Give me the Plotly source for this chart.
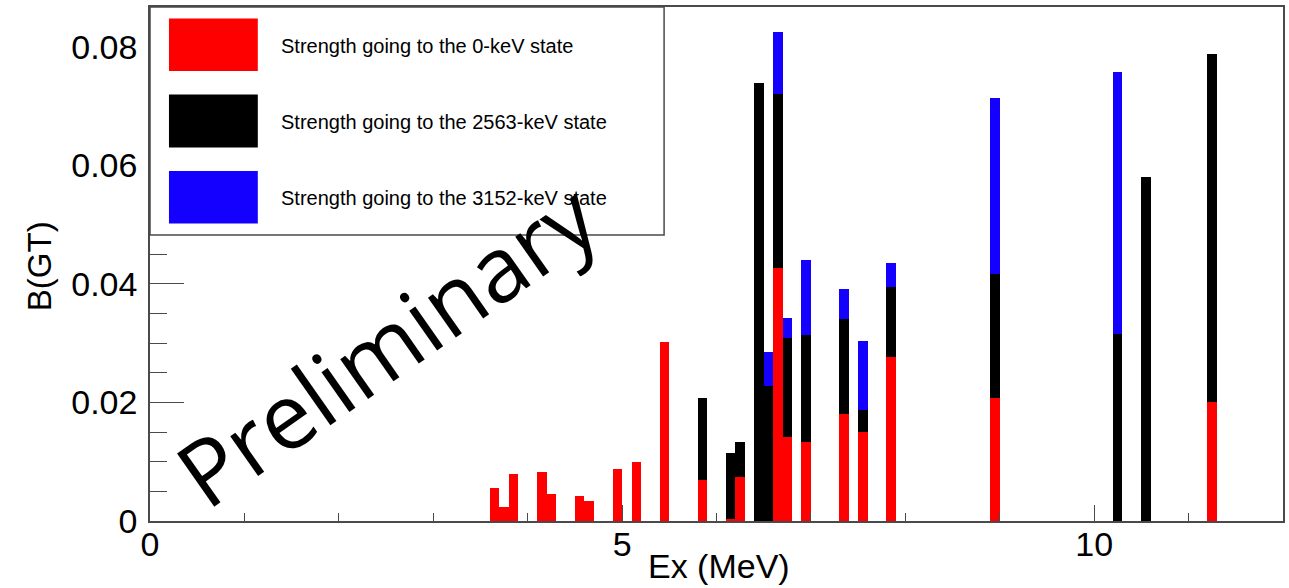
import plotly.graph_objects as go

# Excitation energy bin centres (MeV), 0.1 MeV wide bins
ex_mev = [3.65, 3.75, 3.85, 4.15, 4.25, 4.55, 4.65, 4.95, 5.15, 5.45,
          5.85, 6.15, 6.25, 6.45, 6.55, 6.65, 6.75, 6.95, 7.35, 7.55,
          7.85, 8.95, 10.25, 10.55, 11.25]

# B(GT) strength feeding each final state
bgt_0kev = [0.0055, 0.0024, 0.0079, 0.0083, 0.0045, 0.0043, 0.0033, 0.0087, 0.0100, 0.0302,
            0.0069, 0.0003, 0.0075, 0.0, 0.0, 0.0427, 0.0142, 0.0134, 0.0181, 0.0150,
            0.0277, 0.0207, 0.0, 0.0, 0.0201]
bgt_2563kev = [0.0, 0.0, 0.0, 0.0, 0.0, 0.0, 0.0, 0.0, 0.0, 0.0,
               0.0139, 0.0111, 0.0059, 0.0739, 0.0228, 0.0294, 0.0167, 0.0179, 0.0160, 0.0038,
               0.0117, 0.0209, 0.0315, 0.0580, 0.0586]
bgt_3152kev = [0.0, 0.0, 0.0, 0.0, 0.0, 0.0, 0.0, 0.0, 0.0, 0.0,
               0.0, 0.0, 0.0, 0.0, 0.0057, 0.0104, 0.0034, 0.0128, 0.0051, 0.0115,
               0.0041, 0.0298, 0.0443, 0.0, 0.0]

series_names = ["Strength going to the 0-keV state",
                "Strength going to the 2563-keV state",
                "Strength going to the 3152-keV state"]
series_colors = ["#ff0000", "#000000", "#1400ff"]

x_ticks = [0, 5, 10]
y_ticks = [0, 0.02, 0.04, 0.06, 0.08]
y_tick_text = ["0", "0.02", "0.04", "0.06", "0.08"]

BIN_WIDTH = 0.1
X_RANGE = [0, 12]
Y_RANGE = [0, 0.0867]

W, H = 1289, 588
ML, MR, MT, MB = 150, 4, 7, 67
PW, PH = W - ML - MR, H - MT - MB


def px(x):
    return (x - ML) / PW


def py(y):
    return (H - MB - y) / PH


fig = go.Figure()
for vals, name, col in zip([bgt_0kev, bgt_2563kev, bgt_3152kev], series_names, series_colors):
    fig.add_trace(go.Bar(x=ex_mev, y=vals, width=BIN_WIDTH, name=name,
                         marker=dict(color=col, line=dict(width=0)),
                         showlegend=False))

axis_font = dict(family="Liberation Sans, Arial, sans-serif", size=34, color="black")
frame_col = "#4a4a4a"

fig.update_layout(
    width=W, height=H,
    margin=dict(l=ML, r=MR, t=MT, b=MB),
    barmode="stack",
    plot_bgcolor="white", paper_bgcolor="white",
    xaxis=dict(range=X_RANGE, tickvals=x_ticks, ticktext=[str(v) for v in x_ticks],
               ticks="inside", ticklen=16, tickwidth=1, tickcolor=frame_col,
               minor=dict(dtick=1, ticks="inside", ticklen=8, tickwidth=1, tickcolor=frame_col),
               showline=True, linecolor=frame_col, linewidth=1.5, mirror=True,
               showgrid=False, zeroline=False, tickfont=axis_font, ticklabelstandoff=-8),
    yaxis=dict(range=Y_RANGE, tickvals=y_ticks, ticktext=y_tick_text,
               ticks="inside", ticklen=34, tickwidth=1, tickcolor=frame_col,
               minor=dict(dtick=0.005, ticks="inside", ticklen=17, tickwidth=1, tickcolor=frame_col),
               showline=True, linecolor=frame_col, linewidth=1.5, mirror=True,
               showgrid=False, zeroline=False, tickfont=axis_font, ticklabelstandoff=4),
)

# Legend box with colour swatches
shapes = [dict(type="rect", xref="paper", yref="paper",
               x0=px(150), x1=px(665), y0=py(235), y1=py(7),
               fillcolor="white", line=dict(color=frame_col, width=1.5), layer="above")]
annotations = []
swatch_rows = [(18.6, 71), (94.6, 147.6), (171, 223.6)]
for (top, bot), name, col in zip(swatch_rows, series_names, series_colors):
    shapes.append(dict(type="rect", xref="paper", yref="paper",
                       x0=px(169), x1=px(258), y0=py(bot), y1=py(top),
                       fillcolor=col, line=dict(width=0), layer="above"))
    annotations.append(dict(text=name, xref="paper", yref="paper",
                            x=px(279), y=py((top + bot) / 2 + 1), xanchor="left", yanchor="middle",
                            showarrow=False,
                            font=dict(family="Liberation Sans, Arial, sans-serif", size=20, color="black")))

# Axis titles
annotations.append(dict(text="Ex (MeV)", xref="paper", yref="paper", x=px(720), y=py(566),
                        xanchor="center", yanchor="middle", showarrow=False,
                        font=dict(family="Liberation Sans, Arial, sans-serif", size=34, color="black")))
annotations.append(dict(text="B(GT)", xref="paper", yref="paper", x=px(39), y=py(266),
                        xanchor="center", yanchor="middle", showarrow=False, textangle=-90,
                        font=dict(family="Liberation Sans, Arial, sans-serif", size=33, color="black")))

# Watermark
annotations.append(dict(text="Preliminary", xref="paper", yref="paper", x=px(386), y=py(344),
                        xanchor="center", yanchor="middle", showarrow=False, textangle=-35,
                        font=dict(family="Open Sans, sans-serif", size=91, color="black")))

fig.update_layout(shapes=shapes, annotations=annotations)
fig.write_html("out.html")
